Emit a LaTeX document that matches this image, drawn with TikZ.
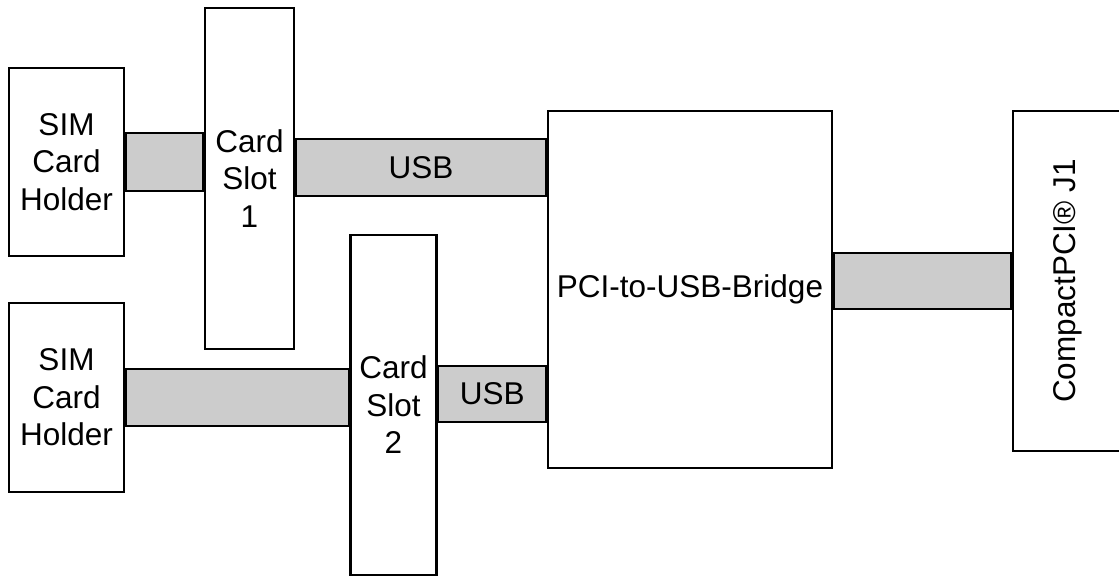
\documentclass[tikz,border=0pt]{standalone}
\usepackage{fontspec}
\setmainfont{Liberation Sans}
\definecolor{bandgray}{HTML}{CCCCCC}
\begin{document}
\begin{tikzpicture}[x=1pt,y=-1pt,
  box/.style={draw,line width=2.8pt,fill=white,inner sep=0pt,align=center,
    font=\fontsize{31.5}{37.5}\selectfont},
  band/.style={draw,line width=2.8pt,fill=bandgray},
  lbl/.style={font=\fontsize{31.5}{37.5}\selectfont,inner sep=0pt}]
\useasboundingbox (0,0) rectangle (1119,577);
% boxes
\node[box,minimum width=115pt,minimum height=188pt] (sim1) at (66.5,162) {SIM\\Card\\Holder};
\node[box,minimum width=89pt,minimum height=341pt] (slot1) at (249.5,178.5) {Card\\Slot\\1};
\node[box,minimum width=115pt,minimum height=189pt] (sim2) at (66.5,397.5) {SIM\\Card\\Holder};
\node[box,minimum width=86pt,minimum height=340pt] (slot2) at (393.5,405) {Card\\Slot\\2};
\node[box,minimum width=284pt,minimum height=357pt] (bridge) at (690,289.5) {PCI-to-USB-Bridge};
\node[box,minimum width=110pt,minimum height=340pt] (cpci) at (1068,281) {\rotatebox{90}{CompactPCI® J1}};
% bands
\draw[band] (sim1.east |- 0,133) rectangle (slot1.west |- 0,191);
\draw[band] (slot1.east |- 0,139) rectangle node[lbl] (usb1) {USB} (bridge.west |- 0,196);
\draw[band] (sim2.east |- 0,369) rectangle (slot2.west |- 0,426);
\draw[band] (slot2.east |- 0,366) rectangle node[lbl] (usb2) {USB} (bridge.west |- 0,422);
\draw[band] (bridge.east |- 0,253) rectangle (cpci.west |- 0,309);
\end{tikzpicture}
\end{document}
